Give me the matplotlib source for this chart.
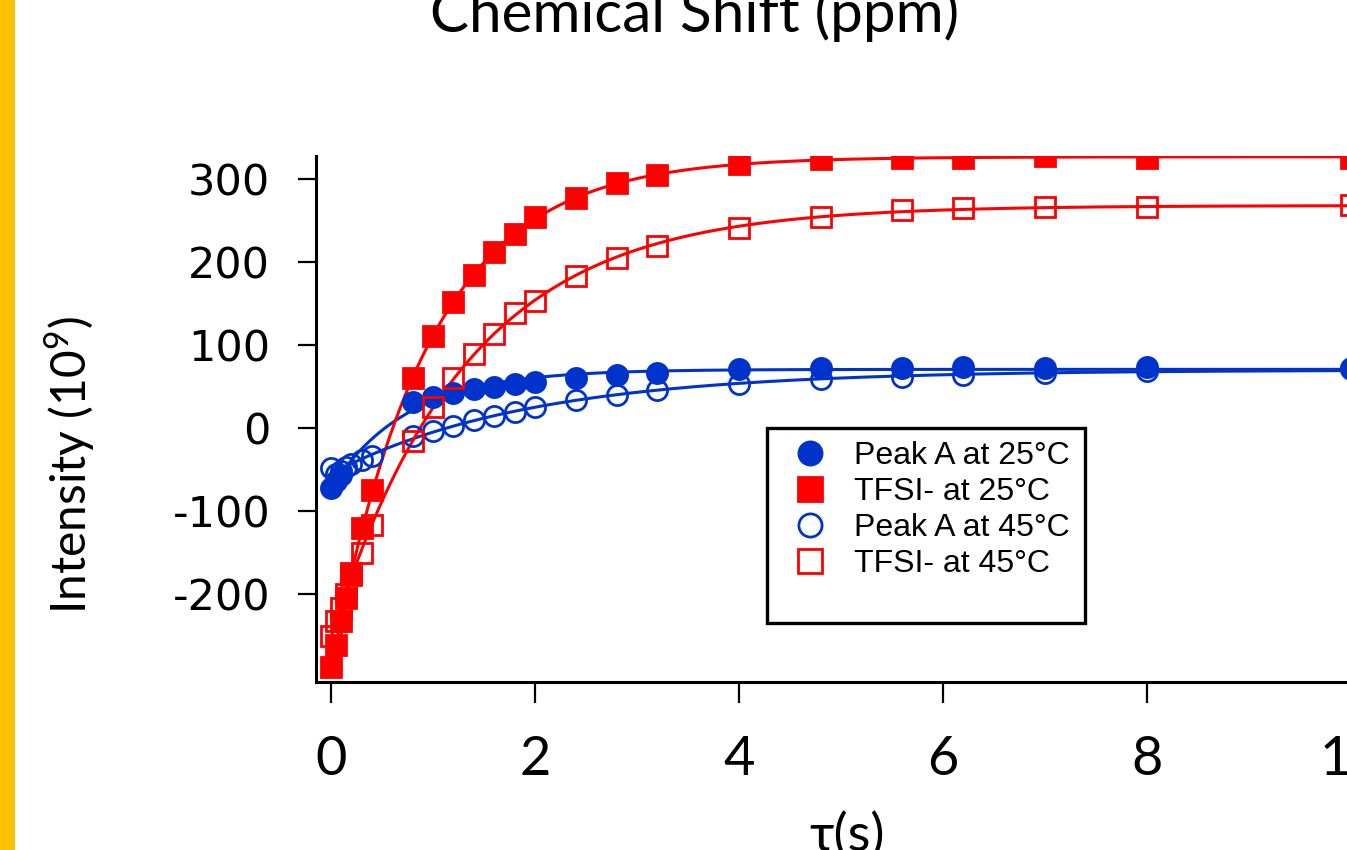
import numpy as np
import matplotlib
matplotlib.use("Agg")
import matplotlib.pyplot as plt
from matplotlib.patches import Rectangle

plt.rcParams['font.family'] = ['Lato', 'DejaVu Sans']
plt.rcParams['mathtext.fontset'] = 'custom'
plt.rcParams['mathtext.rm'] = 'Lato'
plt.rcParams['mathtext.default'] = 'regular'
plt.rcParams['axes.unicode_minus'] = False

# ---------------- data ----------------
tau = [0, 0.05, 0.1, 0.15, 0.2, 0.3, 0.4, 0.8, 1.0, 1.2, 1.4, 1.6, 1.8, 2.0,
       2.4, 2.8, 3.2, 4.0, 4.8, 5.6, 6.2, 7.0, 8.0, 10.0]
peakA_25 = [-72, -64, -56, np.nan, np.nan, np.nan, np.nan, 31, 37, 42, 47, 49, 53, 55,
            61, 64, 67, 71, 72, 73, 74, 73, 74, 73]
tfsi_25 = [-288, -262, -232, -205, -175, -120, -75, 60, 111, 152, 184, 212, 234, 254,
           277, 296, 305, 318, 324, 326, 325, 328, 326, 326]
peakA_45 = [-48, -55, -52, -47, -43, -38, -33, -10, -4, 2, 10, 15, 20, 25,
            34, 40, 46, 53, 59, 62, 64, 66, 69, 71]
tfsi_45 = [-250, -232, -217, -200, -177, -150, -117, -15, 25, 61, 89, 114, 139, 153,
           183, 205, 220, 241, 255, 263, 265, 266, 266, 269]

labels = ['Peak A at 25°C', 'TFSI- at 25°C', 'Peak A at 45°C', 'TFSI- at 45°C']
x_ticks = [0, 2, 4, 6, 8, 10]
y_ticks = [-200, -100, 0, 100, 200, 300]

BLUE = '#0033CC'
RED = '#FF0000'


def fit_recovery(t, y):
    """Least-squares fit of y = A + B*exp(-t/T) (grid search on T)."""
    t = np.asarray(t, float)
    y = np.asarray(y, float)
    m = ~np.isnan(y)
    t, y = t[m], y[m]
    best = None
    for T in np.linspace(0.05, 6, 3000):
        M = np.column_stack([np.ones_like(t), np.exp(-t / T)])
        coef = np.linalg.lstsq(M, y, rcond=None)[0]
        r = np.sum((M @ coef - y) ** 2)
        if best is None or r < best[0]:
            best = (r, coef, T)
    _, (A, B), T = best
    return lambda tt: A + B * np.exp(-tt / T)


W, H = 1347, 850
fig = plt.figure(figsize=(W / 100, H / 100), dpi=100)
fig.patches.append(Rectangle((0, 0), 15 / W, 1, transform=fig.transFigure,
                             facecolor='#FFC000', edgecolor='none'))

ax = fig.add_axes([316 / W, 168 / H, 1086 / W, 526 / H])
ax.set_xlim(-0.147, 10.5)
ax.set_ylim(-306, 328)

series = [
    (peakA_25, BLUE, 'o', BLUE),
    (tfsi_25, RED, 's', RED),
    (peakA_45, BLUE, 'o', 'none'),
    (tfsi_45, RED, 's', 'none'),
]
tt = np.linspace(0, 10.5, 600)
handles = []
for (vals, col, mk, face), lab in zip(series, labels):
    f = fit_recovery(tau, vals)
    ax.plot(tt, f(tt), color=col, lw=2.2, zorder=2)
    h, = ax.plot(tau, vals, ls='none', marker=mk, ms=14.5, mfc=face, mec=col,
                 mew=2.0, label=lab, zorder=3)
    handles.append(h)

for s in ['top', 'right']:
    ax.spines[s].set_visible(False)
for s in ['left', 'bottom']:
    ax.spines[s].set_linewidth(2.2)

ax.set_xticks(x_ticks)
ax.set_yticks(y_ticks)
ax.tick_params(axis='x', direction='out', length=15, width=1.6, pad=23, labelsize=39)
ax.tick_params(axis='y', direction='out', length=13, width=1.6, pad=20, labelsize=31)
for lb in ax.get_yticklabels():
    lb.set_fontfamily('DejaVu Sans')

# legend frame + legend
ax.add_patch(Rectangle((767 / W, 1 - 623 / H), 318 / W, 195 / H,
                       transform=fig.transFigure, facecolor='white',
                       edgecolor='black', lw=2.4, zorder=4, clip_on=False))
leg = ax.legend(handles=handles, loc='upper left',
                bbox_to_anchor=(794 / W, 1 - 441 / H), bbox_transform=fig.transFigure,
                frameon=False, prop={'family': 'Liberation Sans', 'size': 23},
                handlelength=1.0, handletextpad=0.875, labelspacing=0.19,
                borderpad=0, borderaxespad=0, markerscale=1.15)
leg.set_zorder(5)

fig.text(695 / W, 1 - 32 / H, 'Chemical Shift (ppm)', ha='center', va='baseline',
         fontsize=42)
fig.text(70 / W, 1 - 465 / H, r'Intensity (10$^{9}$)', rotation=90,
         ha='center', va='center', fontsize=34.5)
fig.text(847 / W, 1 - 812 / H, 'τ(s)', ha='center', va='top', fontsize=38,
         family=['Lato', 'Open Sans', 'DejaVu Sans'])

fig.savefig('out.png', dpi=100)
